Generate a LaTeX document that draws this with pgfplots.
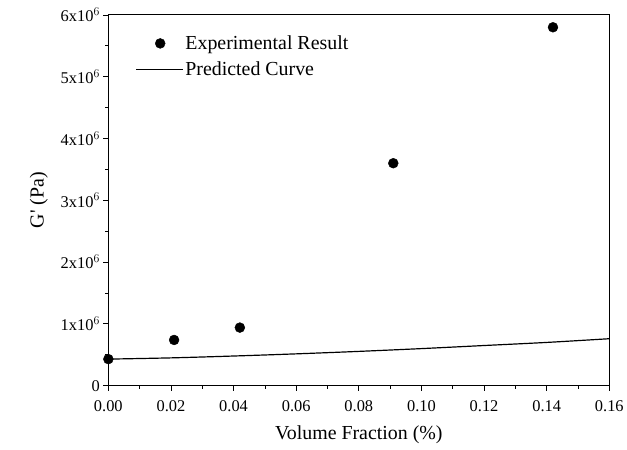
\documentclass[border=0pt]{standalone}
\usepackage{fontspec}
\setmainfont{Liberation Serif}
\usepackage{pgfplots}
\pgfplotsset{compat=1.18}
\pgfplotsset{
  markleg/.style={legend image code/.code={\draw[##1] plot coordinates {(0.85cm,0cm)};}},
  lineleg/.style={legend image code/.code={\draw[##1] (0cm,0cm) -- (1.65cm,0cm);}},
}
\begin{document}
\begin{tikzpicture}
\begin{axis}[
  scale only axis,
  width=504pt, height=373pt,
  xmin=0, xmax=0.16, ymin=0, ymax=6e6,
  xtick={0,0.02,...,0.16},
  ytick={0,1e6,2e6,3e6,4e6,5e6,6e6},
  yticklabels={0,1x10$^6$,2x10$^6$,3x10$^6$,4x10$^6$,5x10$^6$,6x10$^6$},
  minor x tick num=1, minor y tick num=1,
  xtick pos=left, ytick pos=left,
  tick align=outside,
  major tick length=5pt, minor tick length=3pt,
  tick style={black, line width=0.8pt},
  axis line style={line width=0.9pt},
  scaled ticks=false,
  /pgf/number format/assume math mode=true,
  ticklabel style={font=\fontsize{16.5}{19}\selectfont},
  xticklabel style={yshift=-6pt, /pgf/number format/fixed, /pgf/number format/fixed zerofill, /pgf/number format/precision=2},
  xlabel={Volume Fraction (\%)},
  ylabel={G\textquotesingle{} (Pa)},
  label style={font=\fontsize{20}{24}\selectfont},
  xlabel style={yshift=-8pt},
  ylabel style={yshift=6pt},
  legend style={draw=none, fill=none, at={(0.048,0.955)}, anchor=north west,
    font=\fontsize{20}{24}\selectfont, row sep=7pt},
  legend cell align=left,
]
\addplot[only marks, mark=*, mark size=5pt, black, markleg]
  coordinates {(0,4.3e5) (0.021,7.4e5) (0.042,9.4e5) (0.091,3.6e6) (0.142,5.8e6)};
\addlegendentry{Experimental Result}
\addplot[black, line width=1.2pt, smooth, lineleg]
  coordinates {(0,4.3e5) (0.02,4.5e5) (0.04,4.8e5) (0.06,5.15e5) (0.08,5.55e5) (0.10,6.0e5) (0.12,6.5e5) (0.14,7.0e5) (0.16,7.6e5)};
\addlegendentry{Predicted Curve}
\end{axis}
\path ([xshift=-109pt,yshift=-64pt]current axis.south west) rectangle ([xshift=14pt,yshift=15pt]current axis.north east);
\end{tikzpicture}
\end{document}
